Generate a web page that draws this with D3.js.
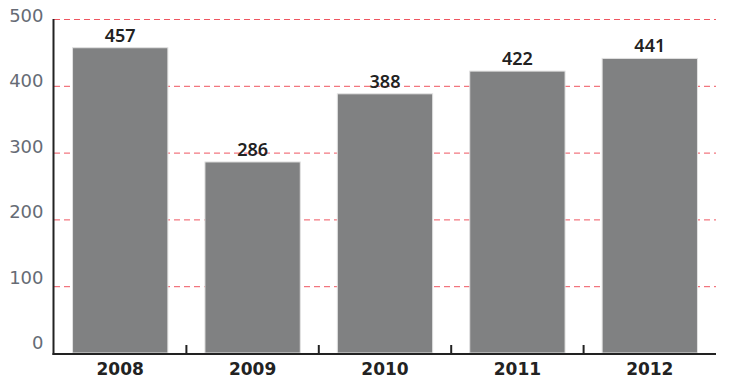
<!DOCTYPE html>
<html>
<head>
<meta charset="utf-8">
<script src="https://cdn.jsdelivr.net/npm/d3@7"></script>
<style>
  body { margin: 0; background: #fff; }
  svg { display: block; }
</style>
</head>
<body>
<div id="chart"></div>
<script>
// data
var years = ['2008', '2009', '2010', '2011', '2012']
var values = [457, 286, 388, 422, 441]
var yTicks = [0, 100, 200, 300, 400, 500]

var width = 740
var height = 389
// plot edges (note: "top" is taken by window.top)
var plotLeft = 54, plotRight = 716, plotTop = 19, plotBottom = 353

var svg = d3.select('#chart').append('svg')
    .attr('width', width)
    .attr('height', height)

var x = d3.scaleBand()
    .domain(years)
    .range([plotLeft, plotRight])
    .paddingInner(0.28)
    .paddingOuter(0.14)

var y = d3.scaleLinear()
    .domain([0, 500])
    .range([plotBottom, plotTop])

// labels in the original sit a bit off the grid lines
var labelY = d3.scaleLinear()
    .domain([0, 500])
    .range([342, 15])

// grid lines
svg.append('g')
    .selectAll('line')
    .data(yTicks.filter(function (d) { return d > 0 }))
    .enter().append('line')
    .attr('x1', plotLeft)
    .attr('x2', plotRight)
    .attr('y1', function (d) { return y(d) + 0.5 })
    .attr('y2', function (d) { return y(d) + 0.5 })
    .attr('stroke', '#ef5560')
    .attr('stroke-width', 1)
    .attr('stroke-dasharray', '6,4')

// bars
svg.append('g')
    .selectAll('rect')
    .data(values)
    .enter().append('rect')
    .attr('x', function (d, i) { return x(years[i]) })
    .attr('y', function (d) { return y(d) })
    .attr('width', x.bandwidth())
    .attr('height', function (d) { return plotBottom - y(d) })
    .attr('fill', '#808182')
    .attr('stroke', '#e2e2e2')
    .attr('stroke-width', 1)

// value labels
svg.append('g')
    .selectAll('text')
    .data(values)
    .enter().append('text')
    .attr('x', function (d, i) { return x(years[i]) + x.bandwidth() / 2 })
    .attr('y', function (d) { return y(d) - 6 })
    .attr('text-anchor', 'middle')
    .style('font-family', '"Noto Sans", sans-serif')
    .style('font-weight', 600)
    .style('font-size', '18px')
    .style('fill', '#222')
    .text(function (d) { return d })

// y axis
var yAxis = svg.append('g')
    .attr('transform', 'translate(' + (plotLeft - 0.5) + ',0)')
    .call(d3.axisLeft(y).tickValues(yTicks).tickSize(0).tickPadding(10))
yAxis.select('.domain')
    .attr('d', 'M0,' + plotTop + 'V' + (plotBottom + 2))
    .attr('stroke', '#222')
    .attr('stroke-width', 2)
yAxis.selectAll('text')
    .attr('dy', function (d) { return (labelY(d) - y(d)) + 6.5 })
    .style('font-family', '"DejaVu Sans", sans-serif')
    .style('font-weight', 400)
    .style('font-size', '18px')
    .style('fill', '#666b75')

// x axis line and ticks between categories
var xAxis = svg.append('g')
    .attr('transform', 'translate(0,' + (plotBottom + 1) + ')')
xAxis.append('line')
    .attr('x1', plotLeft - 1.5)
    .attr('x2', plotRight)
    .attr('stroke', '#222')
    .attr('stroke-width', 2)
xAxis.selectAll('.tick-mark')
    .data(years.slice(1))
    .enter().append('line')
    .attr('class', 'tick-mark')
    .attr('x1', function (d) { return x(d) - x.step() * x.paddingInner() / 2 })
    .attr('x2', function (d) { return x(d) - x.step() * x.paddingInner() / 2 })
    .attr('y1', 0)
    .attr('y2', -9)
    .attr('stroke', '#222')
    .attr('stroke-width', 2)

xAxis.selectAll('.year')
    .data(years)
    .enter().append('text')
    .attr('class', 'year')
    .attr('x', function (d) { return x(d) + x.bandwidth() / 2 })
    .attr('y', 21)
    .attr('text-anchor', 'middle')
    .style('font-family', '"DejaVu Sans", sans-serif')
    .style('font-weight', 700)
    .style('font-size', '17px')
    .style('fill', '#222')
    .text(function (d) { return d })
</script>
</body>
</html>
